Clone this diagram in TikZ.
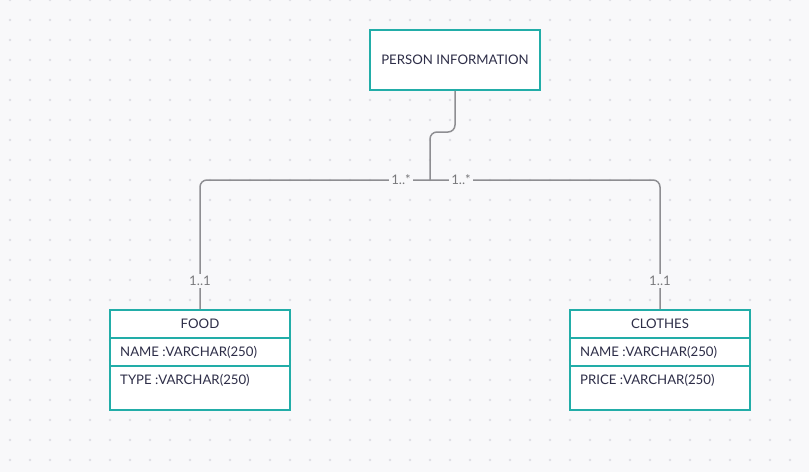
\documentclass[tikz,border=0pt]{standalone}
\usepackage{fontspec}
\setmainfont{Lato}
\usetikzlibrary{positioning}
\definecolor{entityborder}{HTML}{22ADA8}
\definecolor{linkgrey}{HTML}{8E8E92}
\definecolor{inktext}{HTML}{2E2E48}
\definecolor{paper}{HTML}{F8F8FA}
\definecolor{dotgrey}{HTML}{DEDEE4}
\tikzset{
  entity/.style={draw=entityborder, line width=1.6pt, fill=white, inner sep=0pt},
  field/.style={text=inktext, font=\fontsize{13.2}{15}\selectfont, inner sep=0pt, anchor=west},
  title/.style={text=inktext, font=\fontsize{13.2}{15}\selectfont, inner sep=0pt},
  divider/.style={draw=entityborder, line width=1.2pt},
  link/.style={draw=linkgrey, line width=1.5pt, rounded corners=7pt},
  mult/.style={text=linkgrey!85!black, fill=paper, font=\fontsize{13.2}{15}\selectfont, inner sep=2.5pt},
}
\begin{document}
\begin{tikzpicture}[x=1pt, y=-1pt]
  % background with dot grid
  \fill[paper] (0,0) rectangle (809,472);
  \useasboundingbox (0,0) rectangle (809,472);
  \foreach \gx in {10,30,...,809}
    \foreach \gy in {0,20,...,472}
      \fill[dotgrey] (\gx,\gy) circle (1.3pt);

  % entities
  \node[entity, minimum width=170pt, minimum height=60pt] (person) at (455,60) {};
  \node[title] (person-title) at (455,60) {PERSON INFORMATION};

  \node[entity, minimum width=180pt, minimum height=100pt] (food) at (200,360) {};
  \node[title] (food-title) at (200,324) {FOOD};
  \node[field] (food-name) at (120,352) {NAME :VARCHAR(250)};
  \node[field] (food-type) at (120,380) {TYPE :VARCHAR(250)};
  \draw[divider] (food.west |- 0,338) -- (food.east |- 0,338);
  \draw[divider] (food.west |- 0,366) -- (food.east |- 0,366);

  \node[entity, minimum width=180pt, minimum height=100pt] (clothes) at (660,360) {};
  \node[title] (clothes-title) at (660,324) {CLOTHES};
  \node[field] (clothes-name) at (580,352) {NAME :VARCHAR(250)};
  \node[field] (clothes-price) at (580,380) {PRICE :VARCHAR(250)};
  \draw[divider] (clothes.west |- 0,338) -- (clothes.east |- 0,338);
  \draw[divider] (clothes.west |- 0,366) -- (clothes.east |- 0,366);

  % connectors
  \coordinate (joint) at (430,180);
  \draw[link] (person.south) |- (430,132) -- (joint);
  \draw[link] (food.north) |- (joint);
  \draw[link] (clothes.north) |- (joint);

  % multiplicities
  \node[mult] (food-one) at (200,281) {1..1};
  \node[mult] (clothes-one) at (660,281) {1..1};
  \node[mult] (food-many) at (401,180) {1..*};
  \node[mult] (clothes-many) at (461,180) {1..*};
\end{tikzpicture}
\end{document}
